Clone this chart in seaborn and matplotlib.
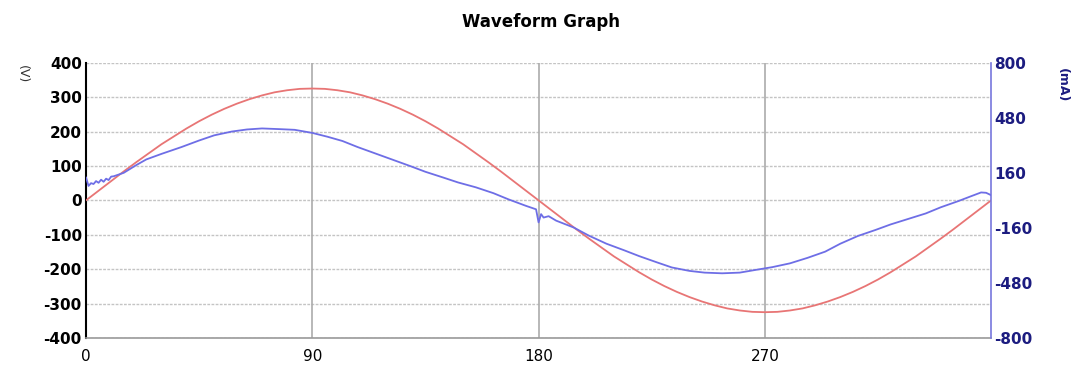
import numpy as np
import pandas as pd
import matplotlib
matplotlib.use("Agg")
import matplotlib.pyplot as plt
import seaborn as sns

# ---- data ----
volt_deg = list(range(0, 361, 5))
volt_v = [0, 28, 56, 84, 111, 137, 163, 186, 209, 230, 249, 266, 281, 294, 305, 314,
          320, 324, 325, 324, 320, 314, 305, 294, 281, 266, 249, 230, 209, 186, 163,
          137, 111, 84, 56, 28, 0, -28, -56, -84, -111, -137, -163, -186, -209, -230,
          -249, -266, -281, -294, -305, -314, -320, -324, -325, -324, -320, -314, -305,
          -294, -281, -266, -249, -230, -209, -186, -163, -137, -111, -84, -56, -28, 0]

curr_deg = [0, 1, 2, 3, 4, 5, 6, 7, 8, 9, 10, 11, 15, 20, 24, 30, 38, 45, 51, 58, 64,
            70, 77, 83, 90, 96, 102, 108, 115, 122, 129, 135, 142, 148, 155, 162, 168,
            175, 179, 180, 181, 182, 184, 187, 194, 200, 207, 214, 220, 227, 233, 240,
            246, 253, 260, 266, 273, 280, 287, 294, 300, 307, 314, 320, 327, 334, 340,
            347, 352, 356, 358, 360]
curr_ma = [134, 84, 100, 95, 112, 102, 120, 108, 126, 118, 138, 140, 160, 205, 238,
           270, 310, 348, 378, 400, 412, 418, 414, 410, 392, 370, 345, 310, 273, 236,
           199, 166, 133, 104, 76, 42, 6, -32, -52, -128, -80, -100, -92, -118, -158,
           -205, -252, -290, -324, -360, -390, -410, -420, -424, -420, -405, -388, -366,
           -334, -298, -252, -207, -172, -140, -108, -76, -40, -4, 24, 46, 44, 30]

x_ticks = [0, 90, 180, 270]
v_ticks = [400, 300, 200, 100, 0, -100, -200, -300, -400]
ma_ticks = [800, 480, 160, -160, -480, -800]

title = "Waveform Graph"
v_label = "(V)"
ma_label = "(mA)"

# ---- plot ----
sns.set_style("white")
plt.rcParams['font.family'] = ['DejaVu Sans']
plt.rcParams['text.color'] = 'black'
plt.rcParams['xtick.color'] = 'black'
plt.rcParams['ytick.color'] = 'black'

fig = plt.figure(figsize=(10.75, 3.72), dpi=100)
ax = fig.add_axes([0.080, 0.0914, 0.842, 0.740])
ax2 = ax.twinx()

dv = pd.DataFrame({"deg": volt_deg, "V": volt_v})
dc = pd.DataFrame({"deg": curr_deg, "mA": curr_ma})

red = "#e87575"
blue = "#6e6ee6"
navy = "#1c1c80"

ax.set_xlim(0, 360)
ax.set_ylim(-400, 400)
ax2.set_ylim(-800, 800)

# grid
for v in v_ticks:
    ax.axhline(v, color="#c4c4c4", lw=1.0, ls=(0, (2, 1)), zorder=0)
for xv in x_ticks[1:]:
    ax.axvline(xv, color="#ababab", lw=1.2, zorder=0)

sns.lineplot(data=dv, x="deg", y="V", ax=ax, color=red, lw=1.3, zorder=3)
sns.lineplot(data=dc, x="deg", y="mA", ax=ax2, color=blue, lw=1.3, zorder=3)

ax.set_xticks(x_ticks)
ax.set_xticklabels([str(t) for t in x_ticks], fontsize=11, color="black")
ax.set_yticks(v_ticks)
ax.set_yticklabels([str(t) for t in v_ticks], fontsize=11, fontweight="bold", color="black")
ax2.set_yticks(ma_ticks)
ax2.set_yticklabels([str(t) for t in ma_ticks], fontsize=11, fontweight="bold", color=navy)

ax.tick_params(axis="both", length=0, pad=8)
ax.tick_params(axis="y", pad=3)
ax2.tick_params(axis="y", length=0, pad=2)

ax.set_xlabel("")
ax.set_ylabel("")
ax2.set_xlabel("")
ax2.set_ylabel("")

for a in (ax, ax2):
    a.spines["top"].set_visible(False)
ax.spines["left"].set_color("black")
ax.spines["left"].set_linewidth(1.5)
ax.spines["bottom"].set_color("#9a9a9a")
ax.spines["bottom"].set_linewidth(1.2)
ax.spines["right"].set_visible(False)
ax2.spines["left"].set_visible(False)
ax2.spines["bottom"].set_visible(False)
ax2.spines["right"].set_color("#7777dd")
ax2.spines["right"].set_linewidth(1.2)

fig.text(0.503, 0.94, title, ha="center", va="center", fontsize=12, fontweight="bold",
         color="black")
fig.text(0.021, 0.80, v_label, ha="center", va="center", fontsize=9, rotation=-90,
         color="#333333")
fig.text(0.988, 0.77, ma_label, ha="center", va="center", fontsize=9, rotation=-90,
         color=navy, fontweight="bold")

fig.savefig("out.png", dpi=100)
